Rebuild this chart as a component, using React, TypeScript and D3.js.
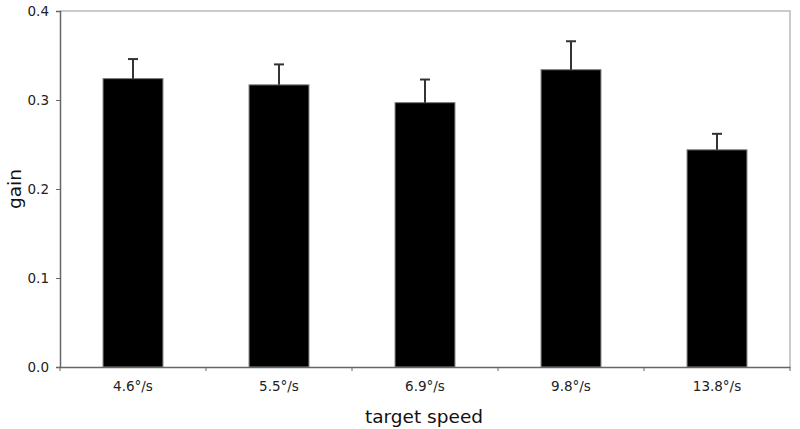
import { useEffect, useRef } from 'react'
import * as d3 from 'd3'

const categories = ['4.6°/s', '5.5°/s', '6.9°/s', '9.8°/s', '13.8°/s']
const gains = [0.324, 0.317, 0.297, 0.334, 0.244]
const errors = [0.022, 0.023, 0.026, 0.032, 0.018]
const yTicks = [0, 0.1, 0.2, 0.3, 0.4]

export default function App() {
  const svgRef = useRef<SVGSVGElement>(null)

  useEffect(() => {
    if (!svgRef.current) return
    const svg = d3.select(svgRef.current)
    svg.selectAll('*').remove()

    const left = 60, right = 790, top = 11, bottom = 367
    const font = 'Verdana, "DejaVu Sans", sans-serif'

    const x = d3.scaleBand<string>()
      .domain(categories)
      .range([left, right])
      .paddingInner(0.59)
      .paddingOuter(0.295)
    const y = d3.scaleLinear().domain([0, 0.4]).range([bottom, top])

    // plot frame (top and right)
    svg.append('path')
      .attr('d', `M${left},${top}H${right}V${bottom}`)
      .attr('fill', 'none')
      .attr('stroke', '#bbb')
      .attr('stroke-width', 1.5)

    // bars
    svg.selectAll('.bar')
      .data(gains)
      .enter()
      .append('rect')
      .attr('x', (d, i) => x(categories[i])!)
      .attr('y', d => y(d))
      .attr('width', x.bandwidth())
      .attr('height', d => y(0) - y(d))
      .attr('fill', '#000')
      .attr('stroke', '#777')
      .attr('stroke-width', 1)

    // error bars
    const eb = svg.append('g').attr('stroke', '#333').attr('stroke-width', 2)
    gains.forEach((g, i) => {
      const cx = x(categories[i])! + x.bandwidth() / 2
      eb.append('line').attr('x1', cx).attr('x2', cx).attr('y1', y(g)).attr('y2', y(g + errors[i]))
      eb.append('line').attr('x1', cx - 5).attr('x2', cx + 5).attr('y1', y(g + errors[i])).attr('y2', y(g + errors[i]))
    })

    // y axis
    const yAxis = svg.append('g')
      .attr('transform', `translate(${left},0)`)
      .call(d3.axisLeft(y).tickValues(yTicks).tickFormat(d3.format('.1f')).tickSize(4).tickPadding(7))
    yAxis.select('.domain').attr('stroke', '#666').attr('stroke-width', 1.5)
    yAxis.selectAll('.tick line').attr('stroke', '#666')
    yAxis.selectAll('.tick text')
      .attr('font-family', font)
      .attr('font-size', 13.5)
      .attr('fill', '#222')

    // x axis
    const xAxis = svg.append('g')
      .attr('transform', `translate(0,${bottom})`)
      .call(d3.axisBottom(x).tickSize(0).tickPadding(14))
    xAxis.select('.domain').attr('stroke', '#666').attr('stroke-width', 1.5)
    xAxis.selectAll('.tick text')
      .attr('font-family', font)
      .attr('font-size', 13.5)
      .attr('fill', '#222')
    // separator ticks between categories
    const step = x.step()
    const seps = d3.range(categories.length + 1).map(i => left + i * step)
    xAxis.selectAll('.sep')
      .data(seps)
      .enter()
      .append('line')
      .attr('x1', d => d)
      .attr('x2', d => d)
      .attr('y1', 0)
      .attr('y2', 4)
      .attr('stroke', '#666')
      .attr('stroke-width', 1)

    // axis titles
    svg.append('text')
      .attr('x', 424)
      .attr('y', 423)
      .attr('text-anchor', 'middle')
      .attr('font-family', font)
      .attr('font-size', 18.5)
      .attr('fill', '#111')
      .text('target speed')

    svg.append('text')
      .attr('transform', `translate(21,${(top + bottom) / 2}) rotate(-90)`)
      .attr('text-anchor', 'middle')
      .attr('font-family', font)
      .attr('font-size', 18.5)
      .attr('fill', '#111')
      .text('gain')
  }, [])

  return (
    <svg
      ref={svgRef}
      width={800}
      height={429}
      style={{ position: 'absolute', left: 0, top: 0, background: '#fff' }}
    />
  )
}
